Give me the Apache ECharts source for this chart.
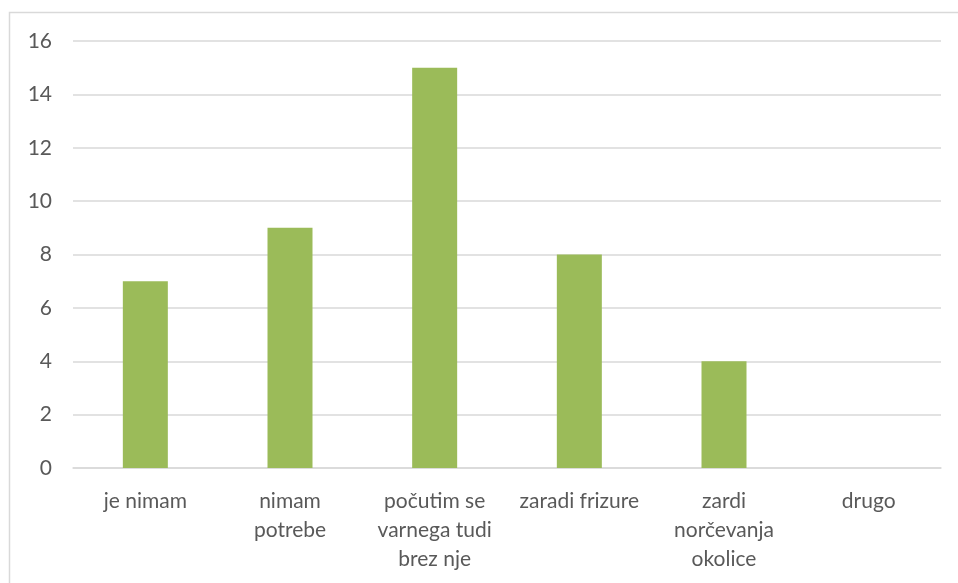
<!DOCTYPE html>
<html>
<head>
<meta charset="utf-8">
<script src="https://cdn.jsdelivr.net/npm/echarts@6/dist/echarts.min.js"></script>
<style>html,body{margin:0;padding:0;background:#fff}#c{width:958px;height:583px}</style>
</head>
<body>
<div id="c"></div>
<script>
const categories = ['je nimam', 'nimam\npotrebe', 'počutim se\nvarnega tudi\nbrez nje', 'zaradi frizure', 'zardi\nnorčevanja\nokolice', 'drugo'];
const values = [7, 9, 15, 8, 4, 0];
const yTicks = { min: 0, max: 16, interval: 2 };

const chart = echarts.init(document.getElementById('c'), null, { renderer: 'canvas' });
chart.setOption({
  animation: false,
  backgroundColor: '#ffffff',
  graphic: [{
    type: 'rect',
    shape: { x: 9.5, y: 12.5, width: 1200, height: 1200 },
    style: { fill: 'none', stroke: '#d9d9d9', lineWidth: 1.5 },
    silent: true
  }],
  grid: { left: 73, right: 17, top: 41, bottom: 115, containLabel: false },
  xAxis: {
    type: 'category',
    data: categories,
    axisLine: { lineStyle: { color: '#d9d9d9', width: 1.5 } },
    axisTick: { show: false },
    axisLabel: {
      interval: 0,
      color: '#595959',
      fontFamily: 'Lato, "Open Sans", sans-serif',
      fontSize: 21,
      lineHeight: 29,
      margin: 19
    }
  },
  yAxis: {
    type: 'value',
    min: yTicks.min, max: yTicks.max, interval: yTicks.interval,
    axisLine: { show: false },
    axisTick: { show: false },
    splitLine: { lineStyle: { color: '#d9d9d9', width: 1.5 } },
    axisLabel: {
      color: '#595959',
      fontFamily: 'Lato, "Open Sans", sans-serif',
      fontSize: 21,
      margin: 21
    }
  },
  series: [{
    type: 'bar',
    data: values,
    barWidth: 45,
    itemStyle: { color: '#9bbb59' }
  }]
});
</script>
</body>
</html>
